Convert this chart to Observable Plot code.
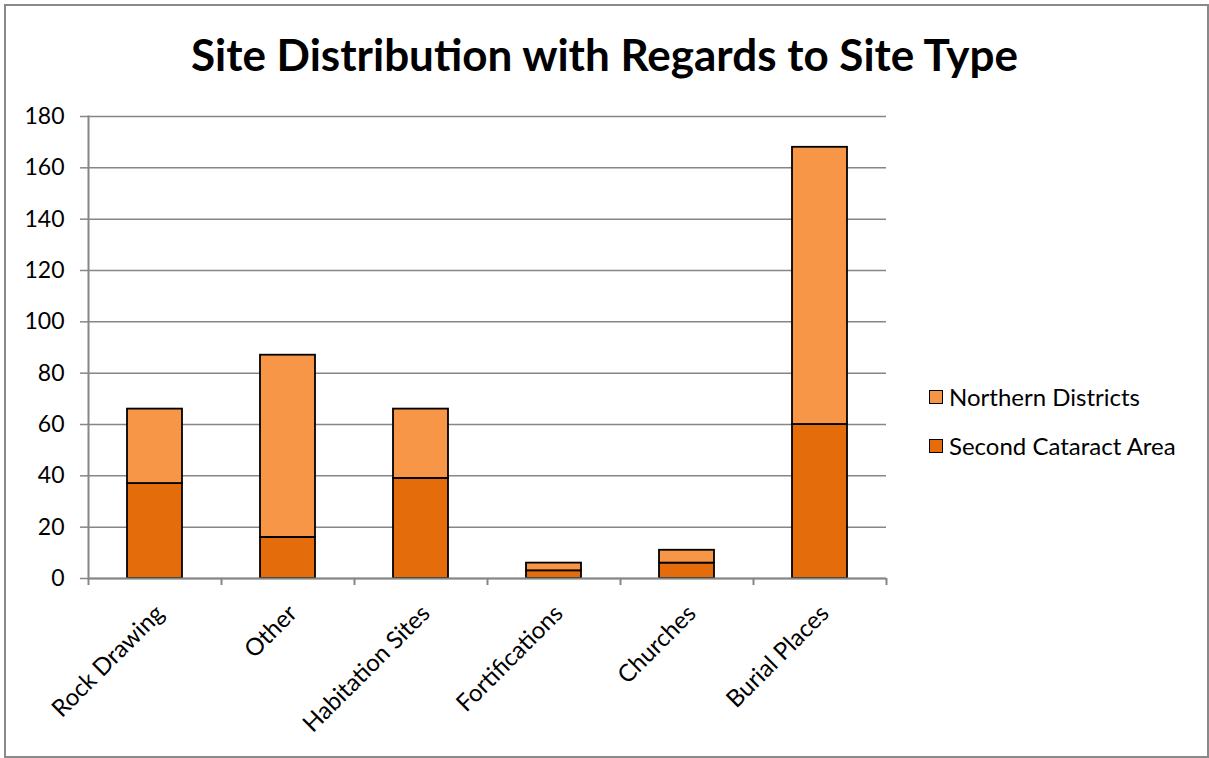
<!DOCTYPE html>
<html><head><meta charset="utf-8">
<script src="https://cdn.jsdelivr.net/npm/d3@7"></script>
<script src="https://cdn.jsdelivr.net/npm/@observablehq/plot@0.6"></script>
<style>
body{margin:0;background:#fff;}
#wrap{position:relative;width:1209px;height:758px;font-family:Lato,sans-serif;color:#000;overflow:hidden;}
#border{position:absolute;left:4px;top:4px;width:1205px;height:754px;border:2px solid #898989;box-sizing:border-box;}
#title{position:absolute;left:0;top:29px;width:1209px;text-align:center;font-weight:bold;font-size:44px;line-height:50px;}
#chart{position:absolute;left:0;top:0;}
#legend{position:absolute;left:929px;top:372px;font-size:24px;}
.item{display:flex;align-items:center;height:49px;}
.sw{width:14px;height:14px;border:1.5px solid #000;box-sizing:border-box;margin-right:6px;}
</style></head>
<body>
<div id="wrap">
<div id="border"></div>
<div id="chart"></div>
<div id="title">Site Distribution with Regards to Site Type</div>
<div id="legend"></div>
</div>
<script>
const categories = ["Rock Drawing","Other","Habitation Sites","Fortifications","Churches","Burial Places"];
const secondCataract = [37,16,39,3,6,60];
const northernDistricts = [29,71,27,3,5,108];
const seriesNames = ["Second Cataract Area","Northern Districts"];
const seriesColors = ["#E46C0A","#F79646"];
const legendOrder = ["Northern Districts","Second Cataract Area"];
const yTicks = [0,20,40,60,80,100,120,140,160,180];

const data = categories.flatMap((c,i)=>[
  {category:c, series:seriesNames[0], value:secondCataract[i]},
  {category:c, series:seriesNames[1], value:northernDistricts[i]}
]);

const W=1209, H=758, mL=88, mR=323, mT=116, mB=180;
const step=(W-mL-mR)/categories.length;
const axisGray="#868686";

const chart = Plot.plot({
  width:W, height:H, marginTop:mT, marginBottom:mB, marginLeft:mL, marginRight:mR,
  style:{fontFamily:"Lato, sans-serif", fontSize:"23px", color:"#000", background:"transparent", overflow:"visible"},
  x:{domain:categories, paddingInner:0.59, paddingOuter:0.295, label:null},
  y:{domain:[0,180], label:null},
  color:{domain:seriesNames, range:seriesColors},
  marks:[
    Plot.gridY(yTicks,{stroke:axisGray, strokeOpacity:1, strokeWidth:1.5}),
    Plot.axisY(yTicks,{tickSize:8, tickPadding:16, stroke:axisGray, strokeOpacity:1, strokeWidth:1.5, fontSize:23, label:null}),
    Plot.barY(data,{x:"category", y:"value", fill:"series", order:seriesNames, stroke:"#000", strokeWidth:1.8}),
    Plot.ruleY([0],{stroke:axisGray, strokeWidth:2}),
    Plot.frame({anchor:"left", stroke:axisGray, strokeWidth:2}),
    Plot.axisX({tickSize:7, text:null, dx:-step/2, stroke:axisGray, strokeOpacity:1, strokeWidth:2, label:null}),
    Plot.axisX([categories[categories.length-1]],{tickSize:7, text:null, dx:step/2, stroke:axisGray, strokeOpacity:1, strokeWidth:2, label:null}),
    Plot.axisX({tickSize:0, tickRotate:-45, tickPadding:31, dx:5, fontSize:24, label:null})
  ]
});
document.getElementById("chart").appendChild(chart);

const leg=document.getElementById("legend");
legendOrder.forEach(name=>{
  const it=document.createElement("div"); it.className="item";
  const sw=document.createElement("div"); sw.className="sw";
  sw.style.background=seriesColors[seriesNames.indexOf(name)];
  const t=document.createElement("span"); t.textContent=name;
  it.appendChild(sw); it.appendChild(t); leg.appendChild(it);
});
</script>
</body></html>
